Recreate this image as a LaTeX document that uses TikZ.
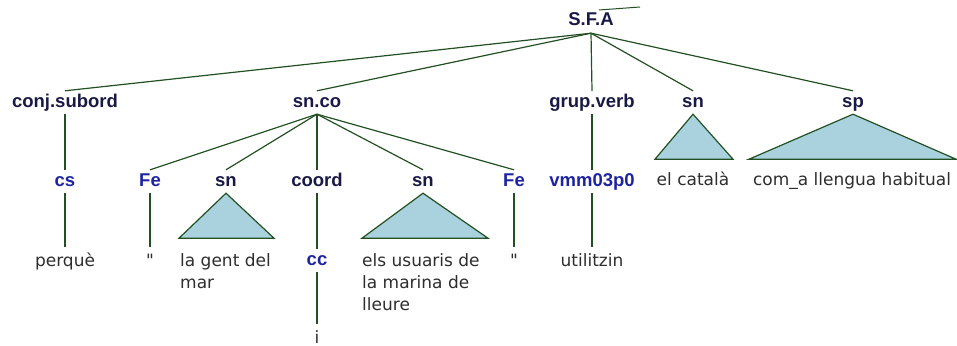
\documentclass[tikz,border=0pt]{standalone}
\usepackage{fontspec}
\setmainfont{Liberation Sans}
\newfontfamily\termfont{DejaVu Sans}
\definecolor{labnavy}{RGB}{25,25,70}
\definecolor{posblue}{RGB}{30,35,160}
\definecolor{termgray}{RGB}{45,45,45}
\definecolor{lgreen}{RGB}{35,80,35}
\definecolor{triblue}{RGB}{170,210,222}
\begin{document}
\begin{tikzpicture}[x=1pt,y=-1pt,
  lab/.style={font=\bfseries\fontsize{18.5}{22}\selectfont, text=labnavy, inner xsep=0pt, inner ysep=3pt, text height=13pt, text depth=4pt, anchor=base},
  postag/.style={lab, text=posblue},
  term/.style={font=\termfont\fontsize{17}{22}\selectfont, text=termgray, inner xsep=0pt, inner ysep=6pt, text height=13pt, text depth=4pt, anchor=base},
  mterm/.style={font=\termfont\fontsize{17}{22}\selectfont, text=termgray, inner sep=0pt, anchor=base west},
  edge/.style={draw=lgreen, line width=1.2pt},
  tri/.style={draw=lgreen, fill=triblue, line width=1.2pt, line join=miter}]
\clip (0,0) rectangle (957,345);
% labels
\node[lab] (sfa) at (591,26) {S.F.A};
\node[lab] (conj) at (65,107) {conj.subord};
\node[lab] (snco) at (317,107) {sn.co};
\node[lab] (gv) at (592,107) {grup.verb};
\node[lab] (snA) at (693,107) {sn};
\node[lab] (sp) at (853,107) {sp};
\node[postag] (cs) at (65,186) {cs};
\node[postag] (fea) at (150,186) {Fe};
\node[lab] (snB) at (226,186) {sn};
\node[lab] (coord) at (317,186) {coord};
\node[lab] (snC) at (423,186) {sn};
\node[postag] (feb) at (514,186) {Fe};
\node[postag] (vmm) at (592,186) {vmm03p0};
\node[postag] (cc) at (317,265) {cc};
% terminals
\node[term] (perq) at (65,266) {perquè};
\node[term] (qa) at (150,266) {"};
\node[mterm] (gent) at (180,266) {\begin{tabular}[t]{@{}l@{}}la gent del\\mar\end{tabular}};
\node[mterm] (usu) at (362,266) {\begin{tabular}[t]{@{}l@{}}els usuaris de\\la marina de\\lleure\end{tabular}};
\node[term] (qb) at (514,266) {"};
\node[term] (util) at (592,266) {utilitzin};
\node[term] (cat) at (693,185) {el català};
\node[term] (llen) at (852,185) {com\_a llengua habitual};
\node[term] (ii) at (317,343) {i};
% stray stroke above root
\coordinate (sta) at (599,10);
\coordinate (stb) at (640,7);
\draw[edge, line width=1pt] (sta) -- (stb);
% connectors
\draw[edge] (sfa.south) -- (conj.north);
\draw[edge] (sfa.south) -- (snco.north);
\draw[edge] (sfa.south) -- (gv.north);
\draw[edge] (sfa.south) -- (snA.north);
\draw[edge] (sfa.south) -- (sp.north);
\draw[edge] (conj.south) -- (cs.north);
\draw[edge] (snco.south) -- (fea.north);
\draw[edge] (snco.south) -- (snB.north);
\draw[edge] (snco.south) -- (coord.north);
\draw[edge] (snco.south) -- (snC.north);
\draw[edge] (snco.south) -- (feb.north);
\draw[edge] (gv.south) -- (vmm.north);
\draw[edge] (cs.south) -- (perq.north);
\draw[edge] (fea.south) -- (qa.north);
\draw[edge] (coord.south) -- (cc.north);
\draw[edge] (cc.south) -- (ii.north);
\draw[edge] (feb.south) -- (qb.north);
\draw[edge] (vmm.south) -- (util.north);
% triangles
\draw[tri] (snA.south) -- ++(-38,45) -- ++(78,0) -- cycle;
\draw[tri] (sp.south) -- ++(-104,45) -- ++(207,0) -- cycle;
\draw[tri] (snB.south) -- ++(-47,45) -- ++(95,0) -- cycle;
\draw[tri] (snC.south) -- ++(-61,45) -- ++(126,0) -- cycle;
\end{tikzpicture}
\end{document}
